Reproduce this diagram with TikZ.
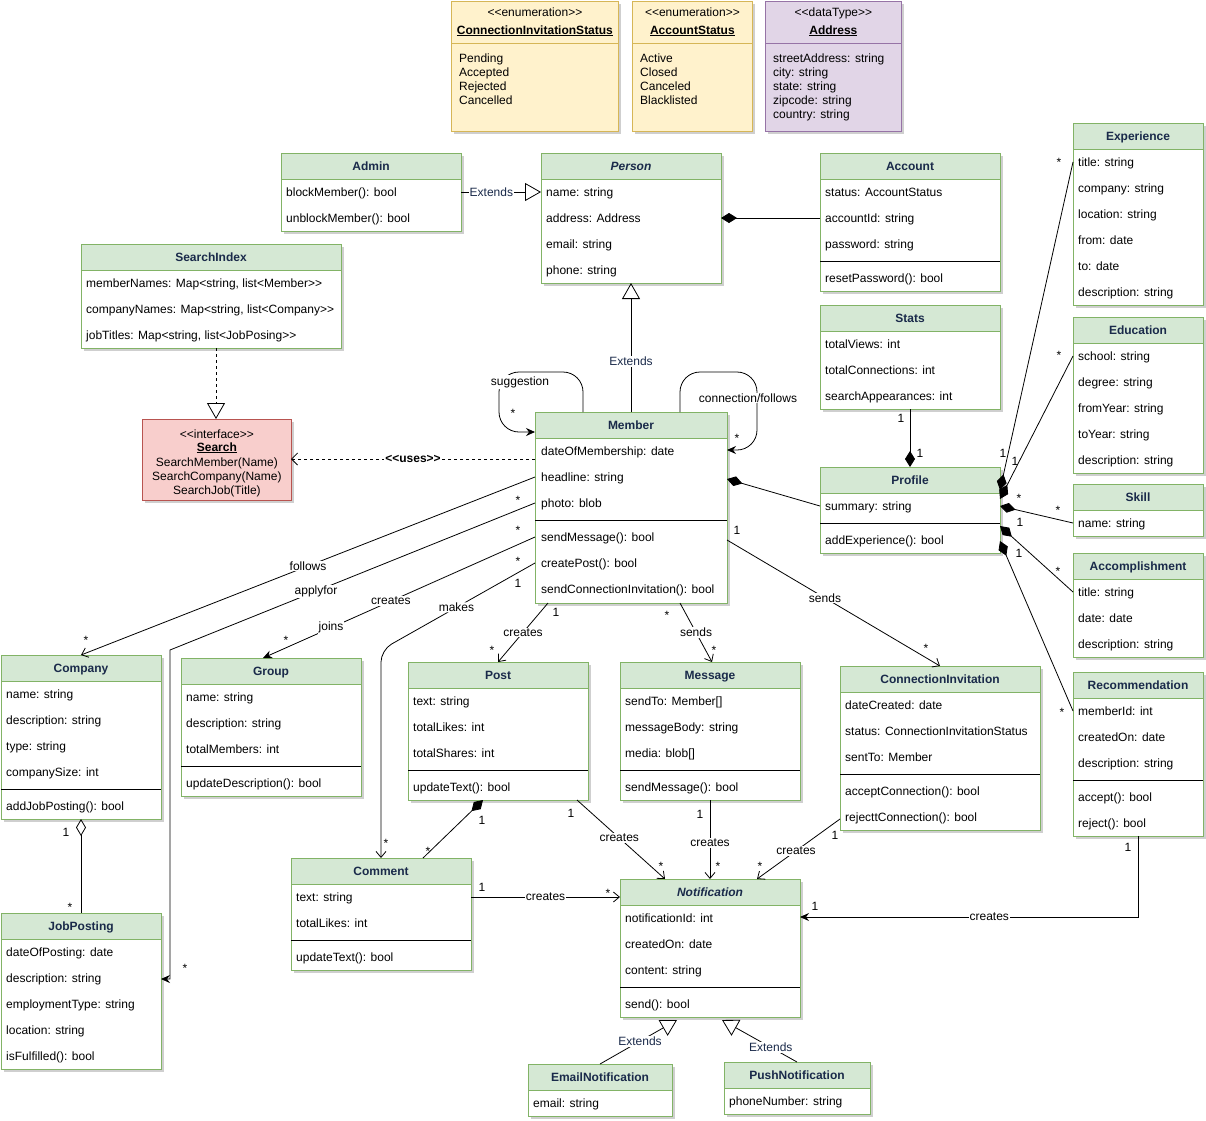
\documentclass[tikz,border=0pt]{standalone}
\usepackage{fontspec}
\newfontfamily\lsans{Liberation Sans}
\usetikzlibrary{arrows.meta,calc}
\definecolor{gfill}{HTML}{D5E8D4}
\definecolor{gline}{HTML}{82B366}
\definecolor{yfill}{HTML}{FFF2CC}
\definecolor{yline}{HTML}{D6B656}
\definecolor{pfill}{HTML}{E1D5E7}
\definecolor{pline}{HTML}{9673A6}
\definecolor{rfill}{HTML}{F8CECC}
\definecolor{rline}{HTML}{B85450}
\definecolor{navy}{HTML}{1A2A4A}
\definecolor{shad}{HTML}{CFCFCF}
\tikzset{
 txt/.style={font=\lsans\fontsize{12}{14}\selectfont},
 bfx/.style={font=\lsans\fontsize{12}{14}\selectfont\bfseries},
 rt/.style={txt, anchor=base west, inner sep=0pt, text=black},
 ttl/.style={bfx, text=navy, inner sep=0pt, anchor=base},
 hd/.style={txt, inner sep=0pt, text=black, anchor=base},
 hdb/.style={bfx, inner sep=0pt, text=black, anchor=base},
 bodybox/.style={fill=white, inner sep=0pt, outer sep=0pt, draw=none},
 lbl/.style={txt, fill=white, inner sep=1pt, text=black},
 elbl/.style={lbl, text=navy},
 mult/.style={txt, inner sep=0pt, text=black},
 conn/.style={draw=black, line width=0.8pt},
 oarr/.style={conn, -{Straight Barb[length=6pt,width=10pt]}},
 farr/.style={conn, -{Stealth[length=9pt,width=8pt,inset=3pt]}},
 gen/.style={conn, -{Triangle[open,length=16pt,width=18pt]}},
 real/.style={gen, dash pattern=on 3pt off 3pt},
 uses/.style={conn, dash pattern=on 3pt off 3pt, -{Straight Barb[length=6pt,width=12pt]}},
 comp/.style={conn, -{Diamond[length=16pt,width=10pt]}},
 aggr/.style={conn, -{Diamond[open,length=17pt,width=10pt]}},
}
\newcommand\ucls[7]{%
 \fill[shad] (#2+3,#3+3) rectangle (#2+#4+3,#3+#5+3);
 \node[bodybox, minimum width=#4pt, minimum height=#5pt, anchor=north west] (#1) at (#2,#3) {};
 \fill[gfill] (#1.north west) rectangle ($(#1.north east)+(0,26)$);
 \draw[gline, line width=0.8pt] ($(#1.north west)+(0,26)$) -- ($(#1.north east)+(0,26)$);
 \draw[gline, line width=0.8pt] (#1.north west) rectangle (#1.south east);
 \node[ttl] (#1-t) at ($(#1.north)+(0,17)$) {#7#6};
}
\newcommand\rws[4]{\foreach \rtx [count=\i] in {#4} \node[rt] (#1-r\i) at (#2, {#3+4+26*(\i-1)}) {\rtx};}
\newcommand\usep[2]{\draw[black, line width=0.8pt] ($(#1.north west)+(0,#2)$) -- ($(#1.north east)+(0,#2)$);}
\newcounter{mc}
\newcommand\mlab[3]{\stepcounter{mc}\node[mult] (mc\arabic{mc}) at (#1,#2) {#3};}
\newcommand\mstar[2]{\stepcounter{mc}\node[mult] (mc\arabic{mc}) at (#1,{#2+3}) {*};}
\begin{document}
\begin{tikzpicture}[x=1pt,y=-1pt]
\useasboundingbox[fill=white] (0,0) rectangle (1206,1120);

% ---------- enumerations / data type ----------
\fill[shad] (454,4) rectangle (621,134);
\node[draw=yline, fill=yfill, line width=0.8pt, inner sep=0pt, minimum width=167pt, minimum height=130pt, anchor=north west] (cis) at (451,1) {};
\draw[yline, line width=0.8pt] ($(cis.north west)+(0,42)$) -- ($(cis.north east)+(0,42)$);
\node[hd] (cis-s) at ($(cis.north)+(0,15)$) {<<enumeration>>};
\node[hdb] (cis-t) at ($(cis.north)+(0,33)$) {\underline{ConnectionInvitationStatus}};
\foreach \rtx [count=\i] in {Pending, Accepted, Rejected, Cancelled} \node[rt] (cis-r\i) at (459, {48+14*\i}) {\rtx};

\fill[shad] (635,4) rectangle (755,134);
\node[draw=yline, fill=yfill, line width=0.8pt, inner sep=0pt, minimum width=120pt, minimum height=130pt, anchor=north west] (acs) at (632,1) {};
\draw[yline, line width=0.8pt] ($(acs.north west)+(0,42)$) -- ($(acs.north east)+(0,42)$);
\node[hd] (acs-s) at ($(acs.north)+(0,15)$) {<<enumeration>>};
\node[hdb] (acs-t) at ($(acs.north)+(0,33)$) {\underline{AccountStatus}};
\foreach \rtx [count=\i] in {Active, Closed, Canceled, Blacklisted} \node[rt] (acs-r\i) at (640, {48+14*\i}) {\rtx};

\fill[shad] (768,4) rectangle (904,134);
\node[draw=pline, fill=pfill, line width=0.8pt, inner sep=0pt, minimum width=136pt, minimum height=130pt, anchor=north west] (address) at (765,1) {};
\draw[pline, line width=0.8pt] ($(address.north west)+(0,42)$) -- ($(address.north east)+(0,42)$);
\node[hd] (address-s) at ($(address.north)+(0,15)$) {<<dataType>>};
\node[hdb] (address-t) at ($(address.north)+(0,33)$) {\underline{Address}};
\foreach \rtx [count=\i] in {streetAddress: string, city: string, state: string, zipcode: string, country: string} \node[rt] (address-r\i) at (773, {48+14*\i}) {\rtx};

% ---------- Search interface ----------
\fill[shad] (145,422) rectangle (294,503);
\node[draw=rline, fill=rfill, line width=0.8pt, inner sep=0pt, minimum width=149pt, minimum height=81pt, anchor=north west] (search) at (142,419) {};
\node[hd] (search-s) at ($(search.north)+(0,19)$) {<<interface>>};
\node[hdb] (search-t) at ($(search.north)+(0,32)$) {\underline{Search}};
\node[hd] (search-r1) at ($(search.north)+(0,47)$) {SearchMember(Name)};
\node[hd] (search-r2) at ($(search.north)+(0,61)$) {SearchCompany(Name)};
\node[hd] (search-r3) at ($(search.north)+(0,75)$) {SearchJob(Title)};

% ---------- classes ----------
\ucls{admin}{281}{153}{180}{78}{Admin}{}
\rws{admin}{286}{192}{blockMember(): bool, unblockMember(): bool}

\ucls{person}{541}{153}{180}{130}{Person}{\itshape}
\rws{person}{546}{192}{name: string, address: Address, email: string, phone: string}

\ucls{account}{820}{153}{180}{138}{Account}{}
\rws{account}{825}{192}{status: AccountStatus, accountId: string, password: string}
\usep{account}{108}
\rws{account-m}{825}{278}{resetPassword(): bool}

\ucls{searchindex}{81}{244}{260}{104}{SearchIndex}{}
\rws{searchindex}{86}{283}{{memberNames: Map<string, list<Member>>}, {companyNames: Map<string, list<Company>>}, {jobTitles: Map<string, list<JobPosing>>}}

\ucls{member}{535}{412}{192}{191}{Member}{}
\rws{member}{541}{451}{dateOfMembership: date, headline: string, photo: blob}
\usep{member}{108}
\rws{member-m}{541}{537}{sendMessage(): bool, createPost(): bool, sendConnectionInvitation(): bool}

\ucls{stats}{820}{305}{180}{104}{Stats}{}
\rws{stats}{825}{344}{totalViews: int, totalConnections: int, searchAppearances: int}

\ucls{profile}{820}{467}{180}{86}{Profile}{}
\rws{profile}{825}{506}{summary: string}
\usep{profile}{56}
\rws{profile-m}{825}{540}{addExperience(): bool}

\ucls{experience}{1073}{123}{130}{182}{Experience}{}
\rws{experience}{1078}{162}{title: string, company: string, location: string, from: date, to: date, description: string}

\ucls{education}{1073}{317}{130}{156}{Education}{}
\rws{education}{1078}{356}{school: string, degree: string, fromYear: string, toYear: string, description: string}

\ucls{skill}{1073}{484}{130}{52}{Skill}{}
\rws{skill}{1078}{523}{name: string}

\ucls{accomplishment}{1073}{553}{130}{104}{Accomplishment}{}
\rws{accomplishment}{1078}{592}{title: string, date: date, description: string}

\ucls{recommendation}{1073}{672}{130}{164}{Recommendation}{}
\rws{recommendation}{1078}{711}{memberId: int, createdOn: date, description: string}
\usep{recommendation}{108}
\rws{recommendation-m}{1078}{797}{accept(): bool, reject(): bool}

\ucls{company}{1}{655}{160}{164}{Company}{}
\rws{company}{6}{694}{name: string, description: string, type: string, companySize: int}
\usep{company}{134}
\rws{company-m}{6}{806}{addJobPosting(): bool}

\ucls{group}{181}{658}{180}{138}{Group}{}
\rws{group}{186}{697}{name: string, description: string, totalMembers: int}
\usep{group}{108}
\rws{group-m}{186}{783}{updateDescription(): bool}

\ucls{post}{408}{662}{180}{138}{Post}{}
\rws{post}{413}{701}{text: string, totalLikes: int, totalShares: int}
\usep{post}{108}
\rws{post-m}{413}{787}{updateText(): bool}

\ucls{message}{620}{662}{180}{138}{Message}{}
\rws{message}{625}{701}{sendTo: Member[], messageBody: string, media: blob[]}
\usep{message}{108}
\rws{message-m}{625}{787}{sendMessage(): bool}

\ucls{conninv}{840}{666}{200}{164}{ConnectionInvitation}{}
\rws{conninv}{845}{705}{dateCreated: date, status: ConnectionInvitationStatus, sentTo: Member}
\usep{conninv}{108}
\rws{conninv-m}{845}{791}{acceptConnection(): bool, rejecttConnection(): bool}

\ucls{comment}{291}{858}{180}{112}{Comment}{}
\rws{comment}{296}{897}{text: string, totalLikes: int}
\usep{comment}{82}
\rws{comment-m}{296}{957}{updateText(): bool}

\ucls{jobposting}{1}{913}{160}{156}{JobPosting}{}
\rws{jobposting}{6}{952}{dateOfPosting: date, description: string, employmentType: string, location: string, isFulfilled(): bool}

\ucls{notification}{620}{879}{180}{138}{Notification}{\itshape}
\rws{notification}{625}{918}{notificationId: int, createdOn: date, content: string}
\usep{notification}{108}
\rws{notification-m}{625}{1004}{send(): bool}

\ucls{emailnotif}{528}{1064}{144}{52}{EmailNotification}{}
\rws{emailnotif}{533}{1103}{email: string}

\ucls{pushnotif}{724}{1062}{146}{52}{PushNotification}{}
\rws{pushnotif}{729}{1101}{phoneNumber: string}

% ---------- connectors ----------
\draw[gen] ($(admin.north west)+(180,39)$) -- node[elbl, pos=0.38] (lb1) {Extends} ($(person.north west)+(0,39)$);
\draw[gen] ($(member.north west)+(96,0)$) -- node[elbl, pos=0.39] (lb2) {Extends} ($(person.north west)+(90,130)$);
\draw[comp] ($(account.north west)+(0,65)$) -- ($(person.north west)+(180,65)$);
\draw[real] ($(searchindex.north west)+(135,104)$) -- ($(search.north west)+(74,0)$);
\draw[uses] ($(member.north west)+(0,47)$) -- node[lbl, bfx] (lb3) {<<uses>>} ($(search.north west)+(149,40)$);

\draw[farr, rounded corners=20pt] ($(member.north west)+(48,0)$) -- ++(0,-40) -- ++(-84,0) -- ++(0,60) -- ($(member.north west)+(0,20)$);
\node[lbl] (lbsug) at (520,382) {suggestion};
\draw[farr, rounded corners=20pt] ($(member.north west)+(145,0)$) -- ++(0,-40) -- ++(77,0) -- ++(0,78) -- ($(member.north west)+(192,38)$);
\node[lbl] (lbcon) at (748,398) {connection/follows};

\draw[oarr] ($(member.north west)+(0,65)$) -- node[lbl,pos=0.5] (lb4) {follows} ($(company.north west)+(80,0)$);
\draw[farr] ($(member.north west)+(0,91)$) -- node[lbl,pos=0.6] (lb5) {applyfor} ++(-365,147) |- ($(jobposting.north west)+(160,66)$);
\draw[farr] ($(member.north west)+(0,125)$) -- node[lbl,pos=0.53] (lb6) {creates} node[lbl,pos=0.75] (lb7) {joins} ($(group.north west)+(82,0)$);
\draw[oarr, rounded corners=12pt] ($(member.north west)+(0,151)$) -- node[lbl,pos=0.51] (lb8) {makes} ++(-154,87) -- ($(comment.north west)+(90,0)$);
\draw[oarr] ($(member.north west)+(13,191)$) -- node[lbl,pos=0.5] (lb9) {creates} ($(post.north west)+(90,0)$);
\draw[oarr] ($(member.north west)+(145,191)$) -- node[lbl,pos=0.5] (lb10) {sends} ($(message.north west)+(92,0)$);
\draw[oarr] ($(member.north west)+(192,128)$) -- node[lbl,pos=0.46] (lb11) {sends} ($(conninv.north west)+(100,0)$);

\draw[comp] ($(profile.north west)+(0,39)$) -- ($(member.north west)+(192,67)$);
\draw[comp] ($(stats.north west)+(90,104)$) -- ($(profile.north west)+(90,0)$);
\draw[comp] ($(experience.north west)+(0,39)$) -- ($(profile.north west)+(180,23)$);
\draw[comp] ($(education.north west)+(0,39)$) -- ($(profile.north west)+(180,32)$);
\draw[comp] ($(skill.north west)+(0,39)$) -- ($(profile.north west)+(180,39)$);
\draw[comp] ($(accomplishment.north west)+(0,39)$) -- ($(profile.north west)+(180,59)$);
\draw[comp] ($(recommendation.north west)+(0,39)$) -- ($(profile.north west)+(180,74)$);

\draw[comp] ($(comment.north west)+(132,0)$) -- ($(post.north west)+(75,138)$);
\draw[oarr] ($(comment.north west)+(180,39)$) -- node[lbl,pos=0.5] (lb12) {creates} ($(notification.north west)+(0,18)$);
\draw[oarr] ($(post.north west)+(169,138)$) -- node[lbl,pos=0.48] (lb13) {creates} ($(notification.north west)+(45,0)$);
\draw[oarr] ($(message.north west)+(90,138)$) -- node[lbl,pos=0.54] (lb14) {creates} ($(notification.north west)+(90,0)$);
\draw[oarr] ($(conninv.north west)+(0,153)$) -- node[lbl,pos=0.53] (lb15) {creates} ($(notification.north west)+(137,0)$);
\draw[farr] ($(recommendation.north west)+(65,164)$) |- node[lbl,pos=0.72] (lb16) {creates} ($(notification.north west)+(180,38)$);
\draw[aggr] ($(jobposting.north west)+(80,0)$) -- ($(company.north west)+(80,164)$);
\draw[gen] ($(emailnotif.north west)+(72,0)$) -- node[elbl,pos=0.52] (lb17) {Extends} ($(notification.north west)+(57,141)$);
\draw[gen] ($(pushnotif.north west)+(73,0)$) -- node[elbl,pos=0.35] (lb18) {Extends} ($(notification.north west)+(102,141)$);

% ---------- multiplicities ----------
\mstar{513}{410}
\mstar{737}{435}
\mstar{518}{497}
\mstar{518}{527}
\mstar{518}{558}
\mlab{518}{583}{1}
\mstar{86}{637}
\mstar{286}{637}
\mstar{185}{965}
\mstar{386}{840}
\mlab{556}{612}{1}
\mstar{492}{647}
\mstar{667}{612}
\mstar{714}{647}
\mlab{737}{530}{1}
\mstar{926}{645}
\mlab{901}{418}{1}
\mlab{920}{453}{1}
\mlab{1003}{453}{1}
\mlab{1015}{461}{1}
\mstar{1059}{159}
\mstar{1059}{352}
\mstar{1019}{495}
\mstar{1058}{507}
\mlab{1020}{522}{1}
\mlab{1019}{553}{1}
\mstar{1058}{568}
\mstar{1062}{709}
\mlab{482}{820}{1}
\mstar{428}{848}
\mlab{482}{887}{1}
\mstar{608}{890}
\mlab{571}{813}{1}
\mstar{661}{863}
\mlab{700}{814}{1}
\mstar{718}{863}
\mlab{835}{835}{1}
\mstar{760}{863}
\mlab{1128}{847}{1}
\mlab{815}{906}{1}
\mlab{66}{832}{1}
\mstar{70}{904}
\end{tikzpicture}
\end{document}
